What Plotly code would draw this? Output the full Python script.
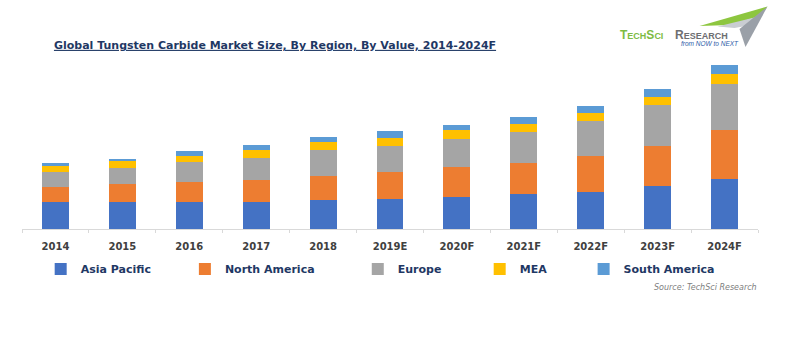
import plotly.graph_objects as go

# ---------------- data (relative value index) ----------------
years = ["2014", "2015", "2016", "2017", "2018", "2019E", "2020F", "2021F", "2022F", "2023F", "2024F"]
asia_pacific = [27.5, 27.5, 27.5, 27.5, 29.4, 30.4, 32.4, 35.0, 37.4, 43.0, 50.0]
north_america = [15.0, 17.7, 19.7, 22.0, 24.0, 26.7, 29.3, 31.3, 35.7, 40.3, 48.7]
europe = [15.0, 16.0, 19.7, 21.7, 25.7, 26.3, 28.3, 30.7, 34.7, 40.7, 46.7]
mea = [6.0, 6.7, 6.0, 8.3, 8.0, 8.0, 8.7, 8.3, 8.3, 8.0, 9.7]
south_america = [2.3, 2.4, 4.7, 4.7, 4.7, 6.3, 5.7, 7.0, 7.0, 8.3, 9.3]

series_names = ["Asia Pacific", "North America", "Europe", "MEA", "South America"]
series_values = [asia_pacific, north_america, europe, mea, south_america]
series_colors = ["#4472C4", "#ED7D31", "#A5A5A5", "#FFC000", "#5B9BD5"]

W, H = 800, 348
L, R, T, B = 22, 41.5, 60, 119
PW, PH = W - L - R, H - T - B


def px(x):
    return (x - L) / PW


def py(y):
    return (H - B - y) / PH


fig = go.Figure()
legend_ids = ["legend", "legend2", "legend3", "legend4", "legend5"]
legend_item_x = [40.7, 185, 358, 480, 584]

for name, vals, col, lid in zip(series_names, series_values, series_colors, legend_ids):
    fig.add_trace(go.Bar(x=years, y=vals, name=name, marker=dict(color=col, line=dict(width=0)),
                         legend=lid, hoverinfo="x+y+name"))

legend_font = dict(family="DejaVu Sans", size=11, color="#1F3864", weight="bold")
legends = {}
for lid, lx in zip(legend_ids, legend_item_x):
    legends[lid] = dict(xref="paper", yref="paper", x=px(lx), y=py(269),
                        xanchor="left", yanchor="middle", orientation="h",
                        font=legend_font, bgcolor="rgba(0,0,0,0)", borderwidth=0,
                        itemclick=False, itemdoubleclick=False)

fig.update_layout(
    width=W, height=H,
    margin=dict(l=L, r=R, t=T, b=B, pad=0, autoexpand=False),
    paper_bgcolor="white", plot_bgcolor="white",
    barmode="stack", bargap=0.597,
    showlegend=True,
    title=dict(text="Global Tungsten Carbide Market Size, By Region, By Value, 2014-2024F",
               xref="container", yref="container", x=275 / W, y=1 - 45 / H,
               xanchor="center", yanchor="middle",
               font=dict(family="DejaVu Sans", size=11, color="#1F3864", weight="bold",
                         lineposition="under")),
    xaxis=dict(type="category", showgrid=False, showline=True, linecolor="#D9D9D9", linewidth=1,
               ticks="outside", tickson="boundaries", ticklen=3, tickcolor="#D9D9D9",
               tickfont=dict(family="DejaVu Sans", size=10, color="#404040", weight="bold"),
               ticklabelstandoff=8, zeroline=False, fixedrange=True),
    yaxis=dict(visible=False, range=[0, PH], fixedrange=True),
    **legends,
)

# ---------------- source note ----------------
fig.add_annotation(xref="paper", yref="paper", x=px(760), y=py(287), xanchor="right", yanchor="middle",
                   text="Source: TechSci Research", showarrow=False,
                   font=dict(family="DejaVu Sans", size=8, color="#808080", style="italic"))

# ---------------- TechSci logo ----------------
def path(points):
    return "M " + " L ".join(f"{px(a):.5f},{py(b):.5f}" for a, b in points) + " Z"


fig.add_shape(type="path", xref="paper", yref="paper", layer="above", line=dict(width=0),
              fillcolor="#8DC63F", path=path([(700, 26), (768, 6.5), (761, 16), (730, 25)]))
fig.add_shape(type="path", xref="paper", yref="paper", layer="above", line=dict(width=0),
              fillcolor="#C9CDD2", path=path([(718, 26.5), (761, 16), (757, 24), (735, 28)]))
fig.add_shape(type="path", xref="paper", yref="paper", layer="above", line=dict(width=0),
              fillcolor="#9AA0A8", path=path([(740, 29), (768, 6.5), (746, 47)]))

fig.add_annotation(xref="paper", yref="paper", x=px(618), y=py(35), xanchor="left", yanchor="middle",
                   showarrow=False,
                   text="<b>T<span style='font-size:9px'>ECH</span>S<span style='font-size:9px'>CI</span></b>",
                   font=dict(family="Liberation Sans", size=12, color="#7DBB42"))
fig.add_annotation(xref="paper", yref="paper", x=px(673), y=py(35), xanchor="left", yanchor="middle",
                   showarrow=False,
                   text="<b>R<span style='font-size:9px'>ESEARCH</span></b>",
                   font=dict(family="Liberation Sans", size=12, color="#6D6E71"))
fig.add_annotation(xref="paper", yref="paper", x=px(679), y=py(43.5), xanchor="left", yanchor="middle",
                   showarrow=False, text="from NOW to NEXT",
                   font=dict(family="Liberation Sans", size=6.5, color="#2E5DA8", style="italic"))

fig.write_html("out.html")
